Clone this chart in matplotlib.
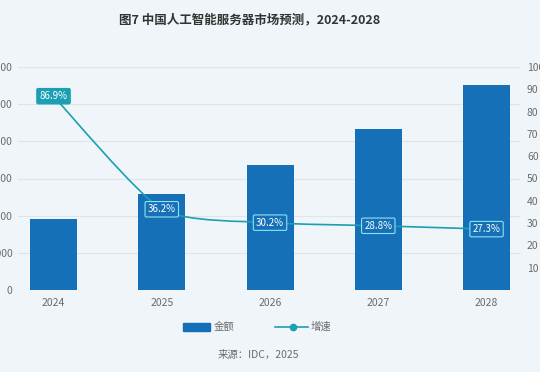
import matplotlib.pyplot as plt
from matplotlib.path import Path
from matplotlib.patches import PathPatch, Rectangle
from matplotlib.lines import Line2D

plt.rcParams['font.family'] = ['Noto Sans CJK SC', 'DejaVu Sans']

# dane
lata = ['2024', '2025', '2026', '2027', '2028']
kwota = [19000, 25900, 33700, 43400, 55200]   # 百万美元
wzrost = [86.9, 36.2, 30.2, 28.8, 27.3]      # %
lewa_os = [0, 10000, 20000, 30000, 40000, 50000, 60000]
prawa_os = [0, 10, 20, 30, 40, 50, 60, 70, 80, 90, 100]

tlo = '#eff5f9'
niebieski = '#1570b7'
turkus = '#1b9fb3'
szary = '#6b6b6b'

fig = plt.figure(figsize=(5.4, 3.72), dpi=100, facecolor=tlo)
ax = fig.add_axes([18 / 540, 82 / 372, 502 / 540, 223 / 372])
ax.set_facecolor(tlo)
x = list(range(len(lata)))

# slupki
ax.bar(x, kwota, width=0.434, color=niebieski, zorder=3)
ax.set_xlim(-0.328, 4.309)
ax.set_ylim(0, 60000)
ax.set_yticks(lewa_os)
ax.set_yticklabels([str(v) for v in lewa_os])
ax.set_xticks(x)
ax.set_xticklabels(lata)
ax.tick_params(axis='y', length=0, pad=4, labelsize=7.5, labelcolor=szary)
ax.tick_params(axis='x', length=0, pad=6, labelsize=7.5, labelcolor=szary)
ax.grid(axis='y', color='#dde4ea', linewidth=0.8, zorder=0)
for s in ax.spines.values():
    s.set_visible(False)

# prawa os - wzrost
ax2 = ax.twinx()
ax2.set_ylim(0, 100)
ax2.set_yticks(prawa_os)
ax2.set_yticklabels([''] + [str(v) for v in prawa_os[1:]])
ax2.tick_params(axis='y', length=0, pad=5, labelsize=7.5, labelcolor=szary)
for s in ax2.spines.values():
    s.set_visible(False)

# wygladzona linia (krzywe Beziera przez punkty danych)
k = 0.22
verts = [(x[0], wzrost[0])]
codes = [Path.MOVETO]
for i in range(len(x) - 1):
    p0 = (x[max(i - 1, 0)], wzrost[max(i - 1, 0)])
    p1 = (x[i], wzrost[i])
    p2 = (x[i + 1], wzrost[i + 1])
    p3 = (x[min(i + 2, len(x) - 1)], wzrost[min(i + 2, len(x) - 1)])
    c1 = (p1[0] + k * (p2[0] - p0[0]) / 2, p1[1] + k * (p2[1] - p0[1]) / 2)
    c2 = (p2[0] - k * (p3[0] - p1[0]) / 2, p2[1] - k * (p3[1] - p1[1]) / 2)
    c1 = (c1[0], min(max(c1[1], min(p1[1], p2[1])), max(p1[1], p2[1])))
    c2 = (c2[0], min(max(c2[1], min(p1[1], p2[1])), max(p1[1], p2[1])))
    verts += [c1, c2, p2]
    codes += [Path.CURVE4] * 3
ax2.add_patch(PathPatch(Path(verts, codes), facecolor='none',
                        edgecolor=turkus, linewidth=1.2, zorder=4))

# etykiety wartosci
for i, w in enumerate(wzrost):
    if i == 0:
        box = dict(boxstyle='round,pad=0.28,rounding_size=0.15', facecolor=turkus,
                   edgecolor=turkus, linewidth=0.8)
    else:
        box = dict(boxstyle='round,pad=0.28,rounding_size=0.15', facecolor=niebieski,
                   edgecolor='#8fe3f0', linewidth=0.8)
    ax2.text(x[i], w, f'{w}%', ha='center', va='center', fontsize=7,
             color='white', bbox=box, zorder=6)

# tytul i zrodlo
fig.text(250 / 540, 1 - 20 / 372, '图7 中国人工智能服务器市场预测，2024-2028', ha='center',
         va='center', fontsize=9, fontweight='bold', color='#333333')
fig.text(258 / 540, 1 - 355 / 372, '来源：IDC，2025', ha='center', va='center',
         fontsize=7.5, color=szary)

# legenda
fig.patches.append(Rectangle((183 / 540, 1 - 331 / 372), 27 / 540, 8 / 372,
                             transform=fig.transFigure, color=niebieski))
fig.text(214 / 540, 1 - 327 / 372, '金额', ha='left', va='center', fontsize=7.5, color=szary)
fig.lines.append(Line2D([275 / 540, 308 / 540], [1 - 327 / 372, 1 - 327 / 372],
                        transform=fig.transFigure, color=turkus, linewidth=1.2))
fig.lines.append(Line2D([293 / 540], [1 - 327 / 372], transform=fig.transFigure,
                        marker='o', markersize=4.5, color=turkus))
fig.text(311 / 540, 1 - 327 / 372, '增速', ha='left', va='center', fontsize=7.5, color=szary)

fig.savefig('out.png', dpi=100, facecolor=tlo)
